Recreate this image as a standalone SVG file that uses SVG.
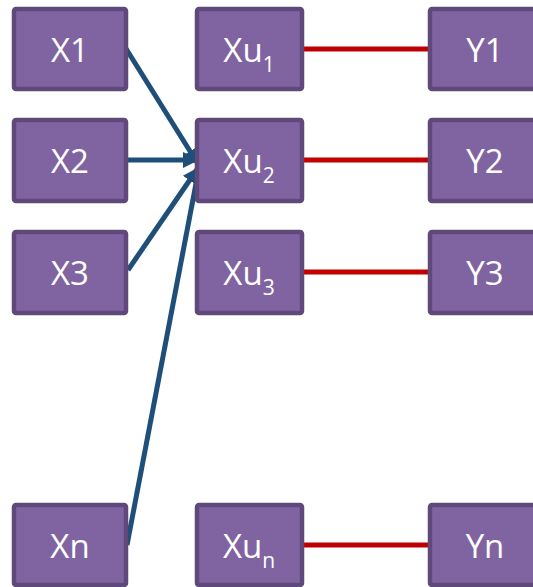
<svg xmlns="http://www.w3.org/2000/svg" width="533" height="587" viewBox="0 0 533 587">
  <style>
    .box rect { fill: #8064A2; stroke: #5F497A; stroke-width: 4.5; }
    .box text { fill: #FFFFFF; font-family: "Open Sans", "Noto Sans", sans-serif; font-size: 33px; text-anchor: middle; }
    .box tspan.sub { font-size: 21px; }
    .link { stroke: #C00000; stroke-width: 5; fill: none; }
    .feed { stroke: #1F4E79; stroke-width: 5; fill: none; marker-end: url(#head); }
  </style>
  <defs>
    <marker id="head" markerUnits="userSpaceOnUse" markerWidth="18" markerHeight="18" viewBox="0 0 18 18" refX="15" refY="9" orient="auto">
      <path d="M0,1 L16,9 L0,17 Z" fill="#1F4E79"/>
    </marker>
  </defs>

  <!-- connectors -->
  <g id="connectors">
    <line class="link" x1="304" y1="49" x2="428" y2="49"/>
    <line class="link" x1="304" y1="160" x2="428" y2="160"/>
    <line class="link" x1="304" y1="272" x2="428" y2="272"/>
    <line class="link" x1="304" y1="545" x2="428" y2="545"/>
    <line class="feed" x1="125" y1="47" x2="198" y2="164"/>
    <line class="feed" x1="128" y1="160" x2="198" y2="160"/>
    <line class="feed" x1="128" y1="270" x2="198" y2="168"/>
    <line class="feed" x1="127" y1="545" x2="199" y2="168"/>
  </g>

  <!-- input column -->
  <g id="x1" class="box"><rect x="14" y="9" width="112" height="80" rx="2"/><text x="70" y="62">X1</text></g>
  <g id="x2" class="box"><rect x="14" y="120" width="112" height="81" rx="2"/><text x="70" y="173">X2</text></g>
  <g id="x3" class="box"><rect x="14" y="232" width="112" height="81" rx="2"/><text x="70" y="285">X3</text></g>
  <g id="xn" class="box"><rect x="14" y="505" width="112" height="80" rx="2"/><text x="70" y="558">Xn</text></g>

  <!-- unit column -->
  <g id="xu1" class="box"><rect x="197" y="9" width="105" height="80" rx="2"/><text x="249" y="62">Xu<tspan class="sub" dy="10">1</tspan></text></g>
  <g id="xu2" class="box"><rect x="197" y="120" width="105" height="81" rx="2"/><text x="249" y="173">Xu<tspan class="sub" dy="10">2</tspan></text></g>
  <g id="xu3" class="box"><rect x="197" y="232" width="105" height="81" rx="2"/><text x="249" y="285">Xu<tspan class="sub" dy="10">3</tspan></text></g>
  <g id="xun" class="box"><rect x="197" y="505" width="105" height="80" rx="2"/><text x="249" y="558">Xu<tspan class="sub" dy="10">n</tspan></text></g>

  <!-- output column -->
  <g id="y1" class="box"><rect x="430" y="9" width="110" height="80" rx="2"/><text x="485" y="62">Y1</text></g>
  <g id="y2" class="box"><rect x="430" y="120" width="110" height="81" rx="2"/><text x="485" y="173">Y2</text></g>
  <g id="y3" class="box"><rect x="430" y="232" width="110" height="81" rx="2"/><text x="485" y="285">Y3</text></g>
  <g id="yn" class="box"><rect x="430" y="505" width="110" height="80" rx="2"/><text x="485" y="558">Yn</text></g>
</svg>
